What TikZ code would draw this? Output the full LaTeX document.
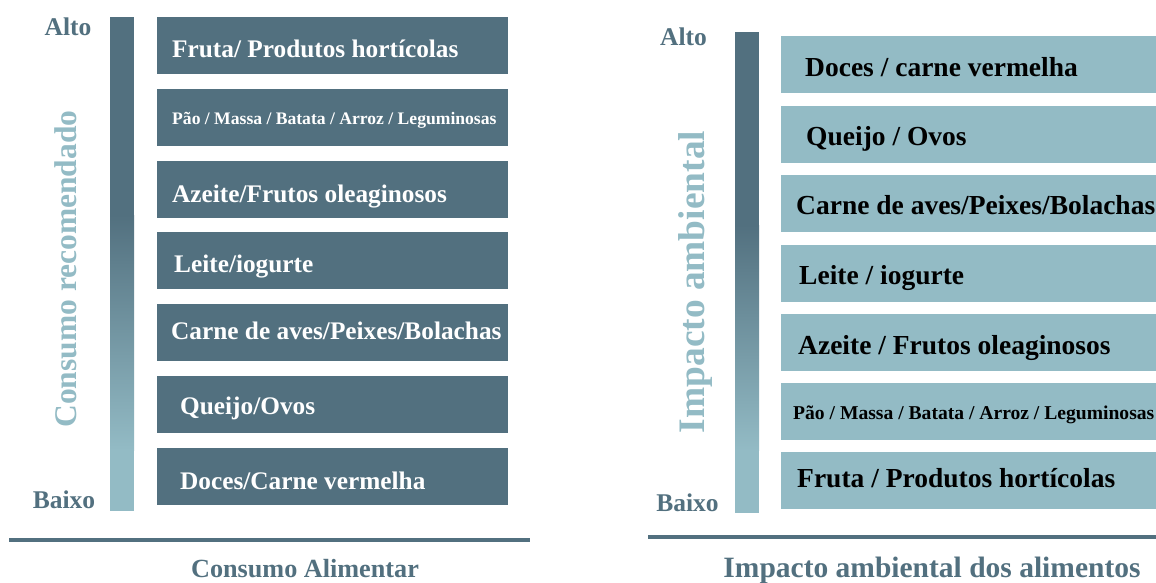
\documentclass[tikz,border=0pt]{standalone}
\usepackage{fontspec}
\setmainfont{Liberation Serif}
\definecolor{dk}{HTML}{52707F}
\definecolor{lt}{HTML}{93BBC5}
\begin{document}
\begin{tikzpicture}[x=1pt,y=-1pt,
  lbox/.style={fill=dk, minimum width=351pt, minimum height=57pt, inner sep=0pt, anchor=north west},
  rbox/.style={fill=lt, minimum width=380pt, minimum height=57pt, inner sep=0pt, anchor=north west},
  ltxt/.style={anchor=base west, inner sep=0pt, text=white, font=\bfseries\fontsize{25.3}{25.3}\selectfont},
  ltxts/.style={ltxt, font=\bfseries\fontsize{17.6}{17.6}\selectfont},
  rtxt/.style={anchor=base west, inner sep=0pt, text=black, font=\bfseries\fontsize{27.5}{27.5}\selectfont},
  rtxts/.style={rtxt, font=\bfseries\fontsize{19.6}{19.6}\selectfont},
  lvl/.style={anchor=base, inner sep=0pt, text=dk, font=\bfseries\fontsize{25.5}{25.5}\selectfont},
  vert/.style={rotate=90, anchor=center, inner sep=0pt, text=lt},
  capt/.style={anchor=base, inner sep=0pt, text=dk},
  rule/.style={draw=dk, line width=4pt}
]
\useasboundingbox (0,0) rectangle (1156,582);
\fill[white] (0,0) rectangle (1156,582);

% ---------- left panel ----------
\fill[dk] (110,17) rectangle (134,215.5);
\shade[top color=dk, bottom color=lt] (110,215) rectangle (134,450.5);
\fill[lt] (110,450) rectangle (134,511);

\node[lvl] (altoL) at (68,35) {Alto};
\node[lvl] (baixoL) at (64,508) {Baixo};
\node[vert, font=\bfseries\fontsize{31.5}{31.5}\selectfont] (vL) at (66,269) {Consumo recomendado};

\node[lbox] (L1) at (157,17) {};
\node[lbox] (L2) at (157,89) {};
\node[lbox] (L3) at (157,161) {};
\node[lbox] (L4) at (157,232) {};
\node[lbox] (L5) at (157,304) {};
\node[lbox] (L6) at (157,376) {};
\node[lbox] (L7) at (157,448) {};

\node[ltxt] (tL1) at (172,57) {Fruta/ Produtos hortícolas};
\node[ltxts] (tL2) at (172,124) {Pão / Massa / Batata / Arroz / Leguminosas};
\node[ltxt] (tL3) at (172,202) {Azeite/Frutos oleaginosos};
\node[ltxt] (tL4) at (174,272) {Leite/iogurte};
\node[ltxt] (tL5) at (171,339) {Carne de aves/Peixes/Bolachas};
\node[ltxt] (tL6) at (180,414) {Queijo/Ovos};
\node[ltxt] (tL7) at (180,489) {Doces/Carne vermelha};

\draw[rule] (9,540) -- (530,540);
\node[capt, font=\bfseries\fontsize{26.2}{26.2}\selectfont] (capL) at (305,577) {Consumo Alimentar};

% ---------- right panel ----------
\fill[dk] (735,32) rectangle (759,225.5);
\shade[top color=dk, bottom color=lt] (735,225) rectangle (759,450.5);
\fill[lt] (735,450) rectangle (759,513);

\node[lvl] (altoR) at (683.5,45) {Alto};
\node[lvl] (baixoR) at (687.5,511) {Baixo};
\node[vert, font=\bfseries\fontsize{37.4}{37.4}\selectfont] (vR) at (695,282) {Impacto ambiental};

\node[rbox] (R1) at (781,36) {};
\node[rbox] (R2) at (781,106) {};
\node[rbox] (R3) at (781,175) {};
\node[rbox] (R4) at (781,245) {};
\node[rbox] (R5) at (781,314) {};
\node[rbox] (R6) at (781,383) {};
\node[rbox] (R7) at (781,452) {};

\node[rtxt] (tR1) at (805,76) {Doces / carne vermelha};
\node[rtxt] (tR2) at (806,145) {Queijo / Ovos};
\node[rtxt] (tR3) at (796,214) {Carne de aves/Peixes/Bolachas};
\node[rtxt] (tR4) at (799,284) {Leite / iogurte};
\node[rtxt] (tR5) at (798,354) {Azeite / Frutos oleaginosos};
\node[rtxts] (tR6) at (793,419) {Pão / Massa / Batata / Arroz / Leguminosas};
\node[rtxt] (tR7) at (797,487) {Fruta / Produtos hortícolas};

\draw[rule] (648,537) -- (1160,537);
\node[capt, font=\bfseries\fontsize{29.5}{29.5}\selectfont] (capR) at (932,577) {Impacto ambiental dos alimentos};
\end{tikzpicture}
\end{document}
